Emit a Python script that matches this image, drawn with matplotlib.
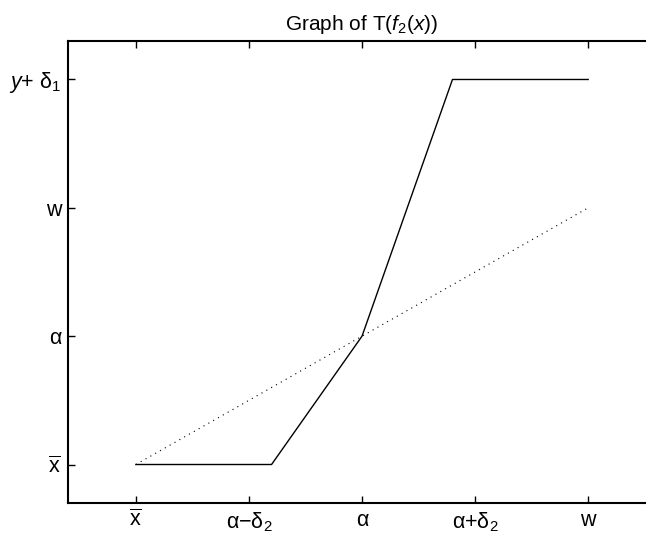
"""Piecewise transform T(f2(x)) against the identity line."""

import matplotlib

matplotlib.use("Agg")

import matplotlib.pyplot as plt

plt.rcParams["font.family"] = ["Liberation Sans", "DejaVu Sans"]
plt.rcParams["mathtext.fontset"] = "custom"
plt.rcParams["mathtext.rm"] = "Liberation Sans"
plt.rcParams["mathtext.it"] = "Liberation Sans:italic"

# tick positions (x: x-bar, a-d2, a, a+d2, w ; y: x-bar, a, w, y+d1)
x_ticks = [1, 2, 3, 4, 5]
x_labels = [r"$\overline{\mathrm{x}}$", "α−δ$_2$", "α", "α+δ$_2$", "w"]
y_ticks = [1, 2, 3, 4]
y_labels = [r"$\overline{\mathrm{x}}$", "α", "w", r"$\mathit{y}$+ δ$_{\mathit{1}}$"]

# T(f2(x)) piecewise curve
curve_x = [1, 2.2, 3, 3.8, 5]
curve_y = [1, 1, 2, 4, 4]

# identity reference line
ident_x = [1, 5]
ident_y = [1, 3]

fig = plt.figure(figsize=(6.46, 5.35), dpi=100)
ax = fig.add_axes([0.1053, 0.0598, 0.9102, 0.8636])

ax.plot(curve_x, curve_y, color="black", linewidth=1.0)
ax.plot(ident_x, ident_y, color="black", linewidth=0.8, linestyle=(0, (1, 4)))

ax.set_xlim(0.4, 5.6)
ax.set_ylim(0.7, 4.3)
ax.set_xticks(x_ticks)
ax.set_xticklabels(x_labels)
ax.set_yticks(y_ticks)
ax.set_yticklabels(y_labels)
ax.tick_params(direction="in", length=5, width=1.0, labelsize=15.5, pad=5,
               top=True, right=False)
ax.spines["right"].set_visible(False)
for spine in ax.spines.values():
    spine.set_linewidth(1.5)

ax.set_title("Graph of T(" + r"$\mathit{f_{2}(x))}$", fontsize=15, pad=8)

fig.savefig("out.png", dpi=100)
